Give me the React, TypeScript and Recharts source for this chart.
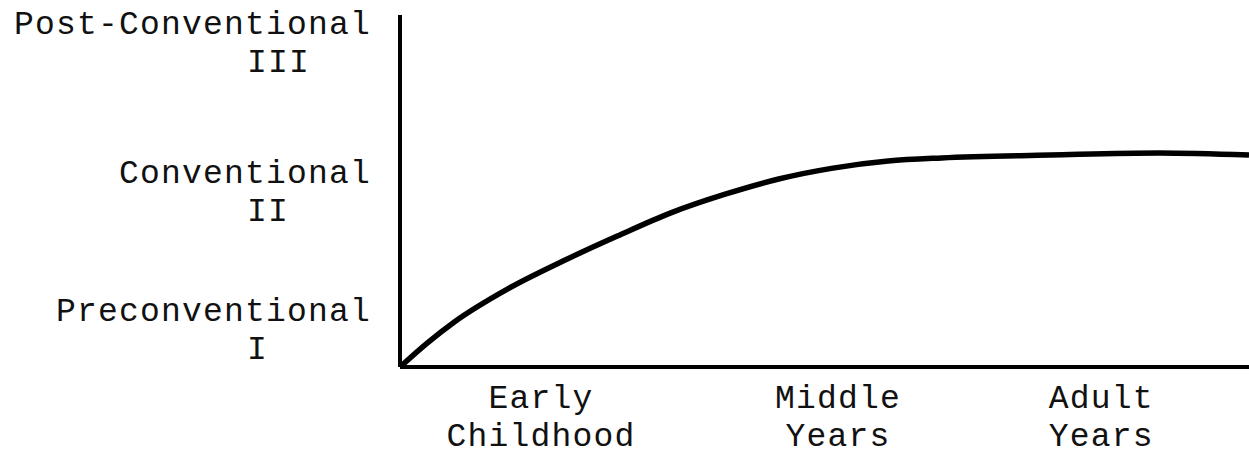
import React from 'react';
import { LineChart, Line, XAxis, YAxis } from 'recharts';

// Life period (0-100 abstract span) and moral-development level (0-100 abstract scale)
const lifeSpan = [0, 3.2, 6.4, 12.7, 19.2, 25.6, 31.9, 38.3, 44.6, 51.0, 57.5, 63.8, 76.6, 89.4, 100];
const moralLevel = [0, 6.8, 12.8, 22.2, 30.1, 37.2, 43.8, 49.1, 53.4, 56.5, 58.5, 59.4, 60.2, 60.8, 60.2];

const xTickValues = [16.6, 51.6, 82.6];
const xTickLabels = [
  ['Early', 'Childhood'],
  ['Middle', 'Years'],
  ['Adult', 'Years'],
];

const yTickValues = [7.7, 46.9, 89.2];
const yTickNames = ['Preconventional', 'Conventional', 'Post-Conventional'];
const yTickNumerals = ['I', 'II', 'III'];

const data = lifeSpan.map((x, i) => ({ x, level: moralLevel[i] }));

const FONT = '"Liberation Mono", "DejaVu Sans Mono", monospace';
const textStyle = { letterSpacing: '1.2px' };

const XTick = (props: any) => {
  const { x, payload } = props;
  const idx = xTickValues.indexOf(payload.value);
  const lines = xTickLabels[idx] || ['', ''];
  return (
    <g>
      <text x={x} y={408} textAnchor="middle" fontFamily={FONT} fontSize={33} fill="#111" style={textStyle}>
        {lines[0]}
      </text>
      <text x={x} y={446} textAnchor="middle" fontFamily={FONT} fontSize={33} fill="#111" style={textStyle}>
        {lines[1]}
      </text>
    </g>
  );
};

const YTick = (props: any) => {
  const { y, payload } = props;
  const idx = yTickValues.indexOf(payload.value);
  return (
    <g>
      <text x={371} y={y - 19} textAnchor="end" fontFamily={FONT} fontSize={33} fill="#111" style={textStyle}>
        {yTickNames[idx]}
      </text>
      <text x={247} y={y + 19} textAnchor="start" fontFamily={FONT} fontSize={33} fill="#111" style={textStyle}>
        {yTickNumerals[idx]}
      </text>
    </g>
  );
};

export default function App() {
  return (
    <div style={{ position: 'absolute', left: 0, top: 0, background: '#fff' }}>
      <LineChart width={1249} height={457} data={data} margin={{ top: 15, right: 0, bottom: 0, left: 0 }}>
        <XAxis
          dataKey="x"
          type="number"
          domain={[0, 100]}
          ticks={xTickValues}
          tick={<XTick />}
          tickLine={false}
          axisLine={{ stroke: '#000', strokeWidth: 4 }}
          height={90}
          interval={0}
        />
        <YAxis
          type="number"
          domain={[0, 100]}
          ticks={yTickValues}
          tick={<YTick />}
          tickLine={false}
          axisLine={{ stroke: '#000', strokeWidth: 4 }}
          width={400}
          interval={0}
        />
        <Line
          dataKey="level"
          type="monotone"
          stroke="#000"
          strokeWidth={5.5}
          dot={false}
          isAnimationActive={false}
        />
      </LineChart>
    </div>
  );
}
